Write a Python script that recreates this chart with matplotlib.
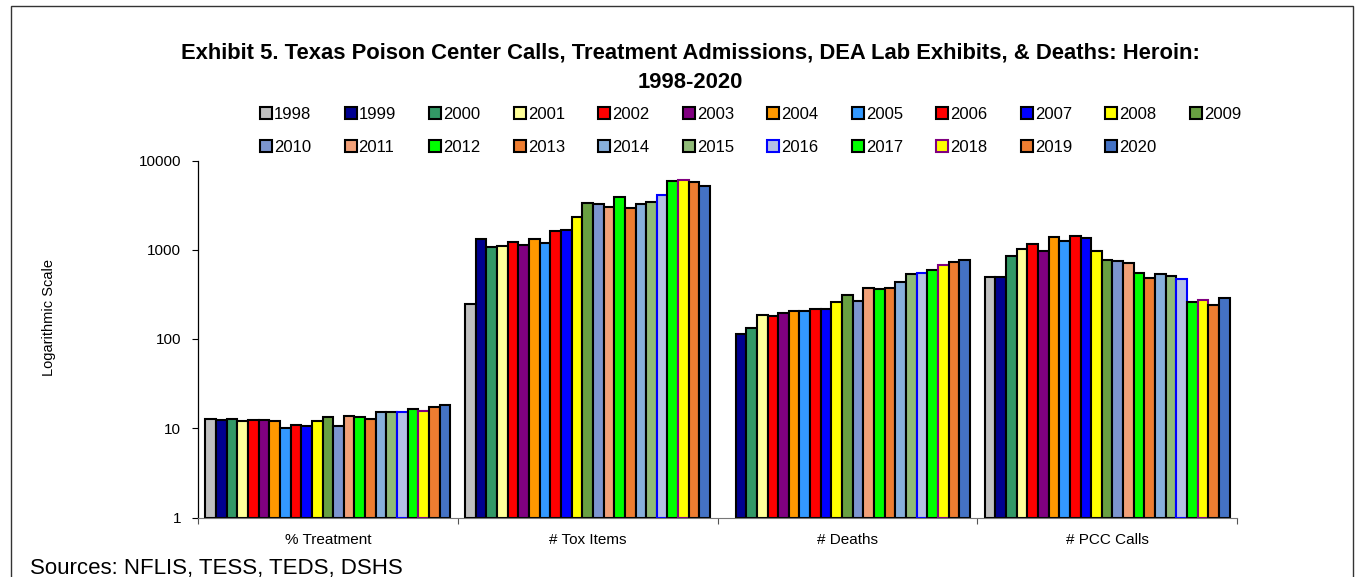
import numpy as np
import matplotlib
matplotlib.use('Agg')
import matplotlib.pyplot as plt
from matplotlib.patches import Patch, Rectangle
from matplotlib.ticker import FixedLocator, FixedFormatter, NullLocator

# data (log scale)
categories = ['% Treatment', '# Tox Items', '# Deaths', '# PCC Calls']
years = [str(y) for y in range(1998, 2021)]

treatment = [11.7, 11.4, 11.7, 11.1, 11.5, 11.3, 11.1, 9.1, 9.9, 9.7, 11.1, 12.4,
             9.7, 12.7, 12.4, 11.7, 14.3, 14.4, 14.1, 15.4, 14.6, 16.4, 17.4]
tox_items = [246, 1310, 1067, 1095, 1234, 1122, 1321, 1183, 1637, 1650, 2327, 3336,
             3250, 3010, 3895, 2930, 3222, 3420, 4064, 5930, 5990, 5676, 5165]
deaths = [np.nan, 113, 133, 184, 181, 194, 204, 204, 216, 216, 257, 308,
          264, 369, 362, 371, 433, 532, 546, 586, 666, 719, 763]
pcc_calls = [493, 493, 861, 1020, 1172, 970, 1403, 1267, 1415, 1355, 962, 769,
             738, 707, 546, 481, 537, 502, 472, 257, 275, 238, 286]

colors = ['#C0C0C0', '#000090', '#339966', '#FFFF99', '#FF0000', '#800080', '#FF9900',
          '#3399FF', '#FF0000', '#0000FF', '#FFFF00', '#69A042', '#7C95CF', '#F1A078',
          '#00FF00', '#ED7D31', '#87B0DC', '#90BB78', '#B4C0E4', '#00FF00', '#FFFF00',
          '#ED7D31', '#4472C4']
edges = ['black'] * 23
edges[18] = '#0000FF'   # 2016
edges[20] = '#800080'   # 2018

series = np.array([treatment, tox_items, deaths, pcc_calls])  # 4 x 23

plt.rcParams['font.family'] = ['Liberation Sans', 'DejaVu Sans']

fig = plt.figure(figsize=(13.56, 5.77), dpi=100)
ax = fig.add_axes([198/1356, 1-517.5/577, (1237-198)/1356, (517.5-160.5)/577])

w = 0.041
grp = np.arange(len(categories))
for j, yr in enumerate(years):
    ax.bar(grp + 0.5 + (j - 11) * w, series[:, j], width=w, bottom=1,
           color=colors[j], edgecolor=edges[j], linewidth=1.5, zorder=2)

ax.set_yscale('log')
ax.set_ylim(1, 10000)
ax.set_xlim(0, 4)
ax.yaxis.set_major_locator(FixedLocator([1, 10, 100, 1000, 10000]))
ax.yaxis.set_major_formatter(FixedFormatter(['1', '10', '100', '1000', '10000']))
ax.yaxis.set_minor_locator(NullLocator())
ax.tick_params(axis='y', which='major', direction='out', length=4, width=0.8,
               labelsize=11, pad=8)

ax.xaxis.set_major_locator(FixedLocator([0, 1, 2, 3, 4]))
ax.xaxis.set_major_formatter(FixedFormatter(['', '', '', '', '']))
ax.xaxis.set_minor_locator(FixedLocator(grp + 0.5))
ax.xaxis.set_minor_formatter(FixedFormatter(categories))
ax.tick_params(axis='x', which='major', direction='out', length=4, width=0.8, color='#555555')
ax.tick_params(axis='x', which='minor', length=0, labelsize=11, pad=11)

ax.spines['top'].set_visible(False)
ax.spines['right'].set_visible(False)
ax.spines['bottom'].set_color('#777777')
ax.spines['left'].set_linewidth(0.9)

fig.text(49/1356, 1-318/577, 'Logarithmic Scale', rotation=90, ha='center', va='center',
         fontsize=10.5)

fig.text(0.509, 1-42/577,
         'Exhibit 5. Texas Poison Center Calls, Treatment Admissions, DEA Lab Exhibits, & Deaths: Heroin:\n1998-2020',
         ha='center', va='top', fontsize=15.8, fontweight='bold', linespacing=1.55)

# legend fills column-wise, so order entries to read across rows
order = []
for k in range(11):
    order += [k, k + 12]
order.append(11)
handles = [Patch(facecolor=colors[j], edgecolor=edges[j], linewidth=1.5) for j in order]
labels = [years[j] for j in order]
fig.legend(handles, labels, loc='upper left', bbox_to_anchor=(260/1356, 1-107/577),
           ncol=12, frameon=False, fontsize=12,
           handlelength=0.72, handleheight=0.72, handletextpad=0.12,
           columnspacing=2.0, labelspacing=1.07, borderpad=0, borderaxespad=0)

fig.text(30/1356, 1-574/577, 'Sources: NFLIS, TESS, TEDS, DSHS', ha='left', va='baseline',
         fontsize=16)

fig.add_artist(Rectangle((11/1356, -0.1), (1353-11)/1356, 1.1-6/577, transform=fig.transFigure,
                         fill=False, edgecolor='#333333', linewidth=1.0))

plt.savefig('out.png', dpi=100)
plt.close()
